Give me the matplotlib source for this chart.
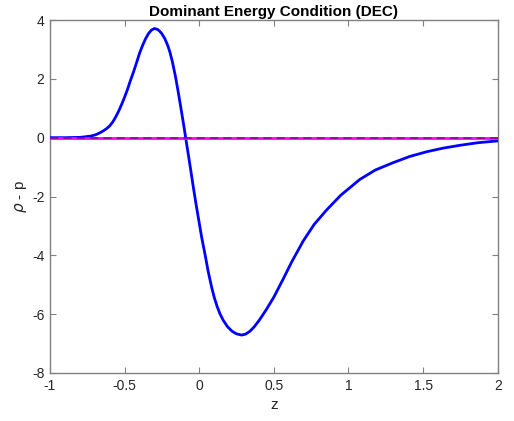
import matplotlib
matplotlib.use("Agg")
import matplotlib.pyplot as plt

z = [-1.0, -0.9, -0.8, -0.78, -0.75, -0.73, -0.70, -0.68, -0.66, -0.64,
     -0.62, -0.60, -0.58, -0.56, -0.54, -0.52, -0.50, -0.48, -0.464, -0.44,
     -0.42, -0.40, -0.38, -0.36, -0.34, -0.32, -0.30, -0.28, -0.265, -0.25,
     -0.23, -0.21, -0.196, -0.18, -0.16, -0.141, -0.12, -0.10, -0.091, -0.06,
     -0.040, -0.02, 0.0, 0.016, 0.04, 0.06, 0.083, 0.10, 0.12, 0.14,
     0.161, 0.19, 0.22, 0.25, 0.284, 0.31, 0.34, 0.37, 0.40, 0.42,
     0.45, 0.5, 0.563, 0.62, 0.697, 0.77, 0.853, 0.95, 1.076, 1.18,
     1.299, 1.41, 1.523, 1.63, 1.746, 1.87, 2.0]
dec = [0.0, 0.0, 0.01, 0.02, 0.04, 0.05, 0.09, 0.13, 0.18, 0.24,
       0.31, 0.40, 0.53, 0.70, 0.90, 1.13, 1.38, 1.65, 1.90, 2.24,
       2.55, 2.87, 3.13, 3.36, 3.54, 3.66, 3.71, 3.68, 3.62, 3.53,
       3.36, 3.12, 2.90, 2.58, 2.10, 1.56, 0.92, 0.30, 0.0, -1.00,
       -1.67, -2.30, -2.90, -3.38, -4.00, -4.55, -5.08, -5.42, -5.74, -6.00,
       -6.21, -6.43, -6.58, -6.67, -6.71, -6.68, -6.58, -6.42, -6.22, -6.07,
       -5.84, -5.42, -4.80, -4.22, -3.51, -2.95, -2.46, -1.95, -1.42, -1.10,
       -0.85, -0.64, -0.48, -0.36, -0.26, -0.17, -0.11]
zero_z = [-1.0, 2.0]
zero_v = [0.0, 0.0]

xticks = [-1, -0.5, 0, 0.5, 1, 1.5, 2]
xticklabels = ["-1", "-0.5", "0", "0.5", "1", "1.5", "2"]
yticks = [-8, -6, -4, -2, 0, 2, 4]
yticklabels = ["-8", "-6", "-4", "-2", "0", "2", "4"]

plt.rcParams['font.family'] = ['Liberation Sans', 'DejaVu Sans']
fig = plt.figure(figsize=(5.14, 4.21), dpi=100)
ax = fig.add_axes([50/514, 1-373/421, 447.7/514, 353/421])

ax.plot(z, dec, color='#0000ff', lw=2.0, zorder=3, solid_joinstyle='round')
ax.plot(zero_z, zero_v, color='#ff00ff', lw=2.0, zorder=4)
ax.plot(zero_z, zero_v, color='black', lw=1.2, ls=(0, (5, 3)), alpha=0.45, zorder=5)

ax.set_xlim(-1, 2)
ax.set_ylim(-8, 4)
ax.set_xticks(xticks)
ax.set_xticklabels(xticklabels)
ax.set_yticks(yticks)
ax.set_yticklabels(yticklabels)

gray = '#808080'
for s in ax.spines.values():
    s.set_color(gray)
    s.set_linewidth(1.0)
ax.tick_params(direction='in', length=4, width=0.8, color=gray, labelcolor='#262626',
               labelsize=10, top=True, right=True, pad=4)

ax.set_xlabel('z', fontsize=11, color='#262626', labelpad=4)
ax.set_ylabel(r'$\rho$ - p', fontsize=11, color='#262626', labelpad=2)
ax.set_title('Dominant Energy Condition (DEC)', fontsize=11, fontweight='bold', pad=3)

fig.savefig('out.png', dpi=100)
